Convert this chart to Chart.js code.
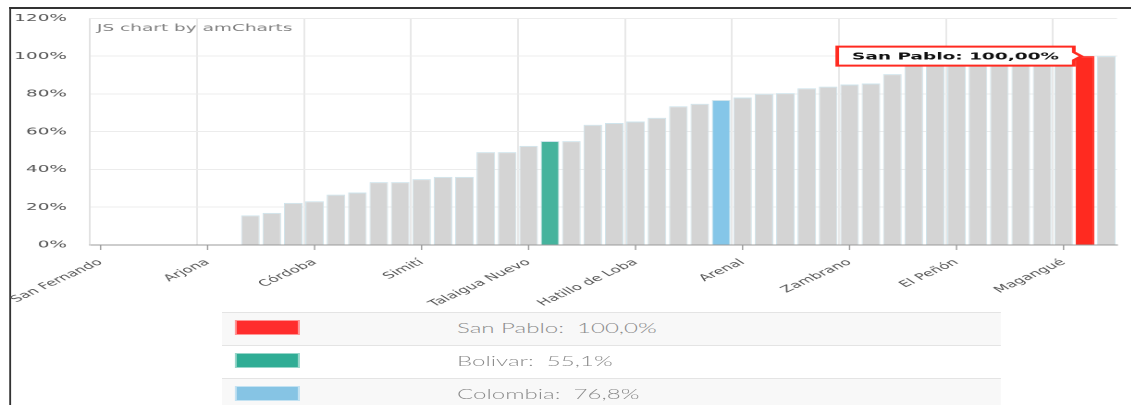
<!DOCTYPE html>
<html>
<head>
<meta charset="utf-8">
<script src="https://cdn.jsdelivr.net/npm/chart.js@4.4.1/dist/chart.umd.min.js"></script>
<style>
  html, body { margin: 0; padding: 0; background: #ffffff; overflow: hidden; }
  #stage { position: absolute; left: 0; top: 0; width: 611.35px; height: 405px; transform: scaleX(1.85); transform-origin: 0 0; }
  #frame { position: absolute; left: 4.6px; top: 7px; right: -20px; bottom: -20px; border-left: 1px solid #333; border-top: 2px solid #333; }
  #c { position: absolute; left: 0; top: 0; }
  #legend { position: absolute; left: 119.5px; top: 312px; width: 421px; font-family: Lato, "Open Sans", sans-serif; font-weight: 300; font-size: 13px; color: #8c8c8c; }
  .row { position: relative; height: 32px; border-top: 1px solid #e4e4e4; }
  .row.alt { background: #f8f8f8; }
  .sw { position: absolute; left: 7px; top: 7px; width: 35.7px; height: 15px; box-sizing: border-box; border: 1px solid rgba(255,255,255,0.5); }
  .txt { position: absolute; left: 127.5px; top: 0; line-height: 30px; white-space: pre; }
</style>
</head>
<body>
<div id="stage">
  <div id="frame"></div>
  <canvas id="c" width="611" height="330"></canvas>
  <div id="legend"></div>
</div>
<script>
// ---- data ----
const categories = ['San Fernando','','','','','Arjona','','','','','Córdoba','','','','','Simití','','','','','Talaigua Nuevo','Bolivar','','','','Hatillo de Loba','','','','Colombia','Arenal','','','','','Zambrano','','','','','El Peñón','','','','','Magangué','San Pablo',''];
const values = [0,0,0,0,0,0,0,15.7,17.0,22.3,23.2,26.7,27.8,33.3,33.3,34.9,36.1,36.1,49.2,49.2,52.5,55.1,55.0,63.7,64.6,65.4,67.4,73.5,74.8,76.8,78.1,80.1,80.4,83.0,83.9,85.0,85.5,90.5,100,100,100,100,100,100,100,100,100,100];
const yTicks = [0,20,40,60,80,100,120];
const legendNames = ['San Pablo','Bolivar','Colombia'];
const legendValues = [100.0, 55.1, 76.8];
const tooltipCategory = 'San Pablo';

// ---- styling ----
const highlight = { 'San Pablo': '#ff2a20', 'Bolivar': '#45b39d', 'Colombia': '#85c6e8' };
const legendColors = ['#ff2d2d', '#30ad95', '#86c4e4'];
const barColors = categories.map(c => highlight[c] || '#d4d4d4');
const borderColors = categories.map(c => c === 'San Pablo' ? '#ff2a20' : '#cfe4ec');

const fmt = v => v.toFixed(2).replace('.', ',') + '%';
const tipIndex = categories.indexOf(tooltipCategory);

const extras = {
  id: 'extras',
  afterUpdate(chart) {
    if (chart.tooltip) {
      chart.tooltip.setActiveElements([{ datasetIndex: 0, index: tipIndex }], { x: 0, y: 0 });
    }
  },
  afterDatasetsDraw(chart) {
    const ctx = chart.ctx, xs = chart.scales.x, area = chart.chartArea;
    ctx.save();
    ctx.strokeStyle = '#999';
    ctx.lineWidth = 0.7;
    for (let i = 0; i < categories.length; i += 5) {
      const x = xs.getPixelForValue(i);
      ctx.beginPath();
      ctx.moveTo(x, area.bottom);
      ctx.lineTo(x, area.bottom + 5);
      ctx.stroke();
    }
    ctx.fillStyle = '#808080';
    ctx.font = '10px "DejaVu Sans"';
    ctx.textBaseline = 'alphabetic';
    ctx.fillText('JS chart by amCharts', area.left + 3.8, area.top + 12.5);
    ctx.restore();
  }
};

const chart = new Chart(document.getElementById('c'), {
  type: 'bar',
  data: {
    labels: categories,
    datasets: [{
      data: values,
      backgroundColor: barColors,
      borderColor: borderColors,
      borderWidth: { top: 1, left: 0.55, right: 0.55, bottom: 0 },
      barPercentage: 0.87,
      categoryPercentage: 1.0
    }]
  },
  options: {
    responsive: false,
    animation: false,
    devicePixelRatio: 2,
    events: [],
    layout: { padding: { left: 7.6, right: 7.2, top: 18, bottom: 8.6 } },
    plugins: {
      legend: { display: false },
      tooltip: {
        enabled: true,
        xAlign: 'right',
        yAlign: 'center',
        backgroundColor: '#ffffff',
        borderColor: '#ff2a20',
        borderWidth: 2,
        cornerRadius: 0,
        caretSize: 4,
        caretPadding: 2,
        displayColors: false,
        padding: { top: 4, bottom: 3, left: 8, right: 8 },
        bodyColor: '#111',
        bodyFont: { family: '"DejaVu Sans"', size: 10, weight: 'bold' },
        callbacks: {
          title: () => '',
          label: (c) => c.label + ': ' + fmt(c.parsed.y)
        }
      }
    },
    scales: {
      x: {
        offset: true,
        afterFit: (s) => { s.paddingLeft = 0; s.paddingRight = 0; },
        grid: {
          offset: true,
          drawTicks: false,
          color: (c) => (c.index !== undefined && c.index % 5 === 0) ? '#d9d9d9' : 'rgba(0,0,0,0)',
          lineWidth: 0.6
        },
        border: { display: true, color: '#9a9a9a', width: 1 },
        ticks: {
          autoSkip: false,
          maxRotation: 40,
          minRotation: 40,
          padding: 12,
          color: '#555',
          font: { family: '"DejaVu Sans"', size: 9 },
          callback: (v, i) => i % 5 === 0 ? categories[i] : ''
        }
      },
      y: {
        min: 0,
        max: 120,
        afterBuildTicks: (s) => { s.ticks = yTicks.map(v => ({ value: v })); },
        afterFit: (s) => { s.width -= s.options.ticks.padding; },
        grid: { color: '#ececec', drawTicks: false, lineWidth: 1 },
        border: { display: true, color: '#dddddd', width: 0.6 },
        ticks: {
          padding: 12.4,
          color: '#555',
          font: { family: '"DejaVu Sans"', size: 10 },
          callback: (v) => v + '%'
        }
      }
    }
  },
  plugins: [extras]
});

chart.update();

// ---- legend ----
const lg = document.getElementById('legend');
legendNames.forEach((n, i) => {
  const row = document.createElement('div');
  row.className = 'row' + (i % 2 === 0 ? ' alt' : '');
  const sw = document.createElement('div');
  sw.className = 'sw';
  sw.style.background = legendColors[i];
  const t = document.createElement('div');
  t.className = 'txt';
  t.textContent = n + ':  ' + legendValues[i].toFixed(1).replace('.', ',') + '%';
  row.appendChild(sw); row.appendChild(t);
  lg.appendChild(row);
});
</script>
</body>
</html>
